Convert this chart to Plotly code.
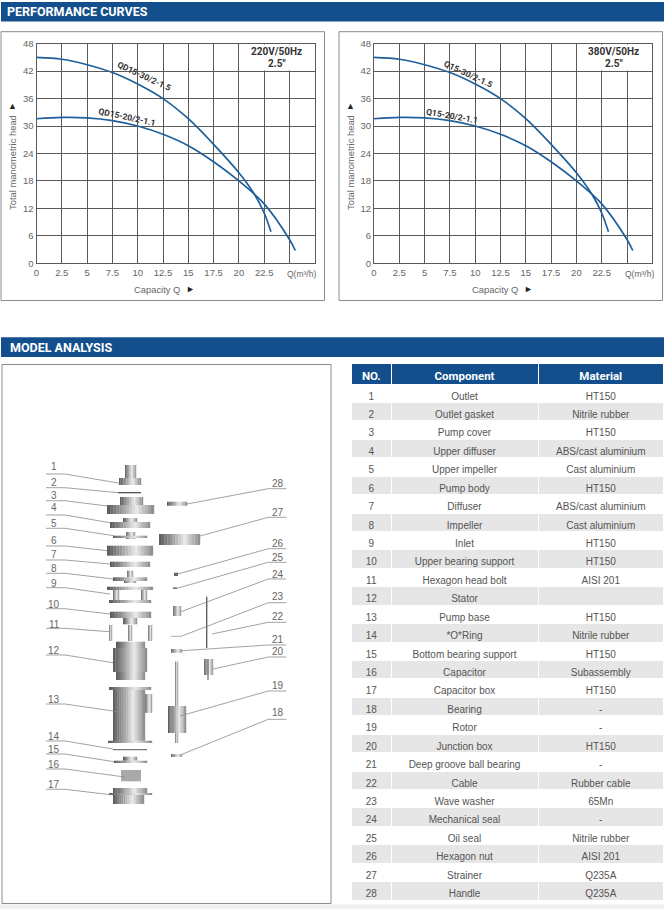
import plotly.graph_objects as go

# ---------- chart values ----------
q_30 = [0, 2.5, 5, 7.5, 10, 12.5, 15, 17.5, 20, 21.5, 22.5, 23.17]
h_30 = [45.0, 44.6, 43.4, 41.7, 39.2, 36.0, 31.6, 26.0, 19.8, 15.2, 11.0, 6.9]
q_20 = [0, 2.5, 5, 7.5, 10, 12.5, 15, 17.5, 20, 22.5, 25, 25.57]
h_20 = [31.6, 31.9, 31.8, 31.2, 30.0, 28.2, 25.7, 22.2, 18.0, 13.0, 5.2, 2.8]
x_ticks = [0, 2.5, 5, 7.5, 10, 12.5, 15, 17.5, 20, 22.5, 25]
x_tick_text = ["0", "2.5", "5", "7.5", "10", "12.5", "15", "17.5", "20", "22.5", ""]
y_ticks = [0, 6, 12, 18, 24, 30, 36, 42, 48]

# ---------- table values ----------
numbers = [str(i) for i in range(1, 29)]
components = ["Outlet", "Outlet gasket", "Pump cover", "Upper diffuser", "Upper impeller", "Pump body",
              "Diffuser", "Impeller", "Inlet", "Upper bearing support", "Hexagon head bolt", "Stator",
              "Pump base", "*O*Ring", "Bottom bearing support", "Capacitor", "Capacitor box", "Bearing",
              "Rotor", "Junction box", "Deep groove ball bearing", "Cable", "Wave washer",
              "Mechanical seal", "Oil seal", "Hexagon nut", "Strainer", "Handle"]
materials = ["HT150", "Nitrile rubber", "HT150", "ABS/cast aluminium", "Cast aluminium", "HT150",
             "ABS/cast aluminium", "Cast aluminium", "HT150", "HT150", "AISI 201", "",
             "HT150", "Nitrile rubber", "HT150", "Subassembly", "HT150", "-",
             "-", "HT150", "-", "Rubber cable", "65Mn", "-", "Nitrile rubber", "AISI 201", "Q235A", "Q235A"]

# ---------- page geometry ----------
W, H = 664, 909
BLUE = "#134f8c"
CURVE = "#1f5f9b"
GRID = "#5a5a5a"
TXT = "#666666"
SANS = "Liberation Sans"
NARROW = "Roboto, Liberation Sans"


def px(x):
    return x / W


def py(y):
    return 1 - y / H


shapes = []
annotations = []


def rect(x0, y0, x1, y1, fill="rgba(0,0,0,0)", line=None, lw=1):
    shapes.append(dict(type="rect", xref="paper", yref="paper", x0=px(x0), x1=px(x1), y0=py(y0), y1=py(y1),
                       fillcolor=fill, line=dict(color=line or "rgba(0,0,0,0)", width=lw if line else 0),
                       layer="below"))


def polyline(points, color="#8a8a8a", lw=0.8):
    d = "M" + " L".join(f"{px(a):.5f},{py(b):.5f}" for a, b in points)
    shapes.append(dict(type="path", xref="paper", yref="paper", path=d, line=dict(color=color, width=lw)))


def text(x, y, s, size=10, color=TXT, font=SANS, angle=0, anchor="center"):
    annotations.append(dict(xref="paper", yref="paper", x=px(x), y=py(y), text=s, showarrow=False,
                            xanchor=anchor, yanchor="middle", textangle=angle, borderpad=0, borderwidth=0,
                            font=dict(size=size, color=color, family=font)))


GRADIENT = ["#5f5f5f", "#6c6c6c", "#7b7b7b", "#898989", "#979797", "#a8a8a8", "#b9b9b9", "#cbcbcb", "#dcdcdc",
            "#e8e8e8", "#d6d6d6", "#c4c4c4", "#b4b4b4", "#a4a4a4", "#909090"]


def metal(x0, y0, x1, y1):
    n = len(GRADIENT)
    step = (x1 - x0) / n
    for i, c in enumerate(GRADIENT):
        rect(x0 + i * step, y0, x0 + (i + 1) * step + 0.2, y1, fill=c)


# background furniture
rect(1, 2, 664, 21.5, fill=BLUE)
rect(1, 337.3, 664, 357, fill=BLUE)
rect(1, 31.7, 324.5, 300.5, line="#8c8c8c")
rect(339, 31.7, 662.5, 300.5, line="#8c8c8c")
rect(2, 364.5, 331, 903.5, line="#8c8c8c")
rect(0, 904.5, 664, 909, fill="#f0f0f0")
text(7, 11.8, "<b>PERFORMANCE CURVES</b>", size=12.5, color="white", font=NARROW, anchor="left")
text(10, 347, "<b>MODEL ANALYSIS</b>", size=12.5, color="white", font=NARROW, anchor="left")

# chart side texts
for dx, volt, lab30, pos30, lab20, pos20, ang20, vx in [
    (0, "220V/50Hz", "QD15-30/2-1.5", (143.7, 76.5), "QD15-20/2-1.1", (127, 117.5), 12, 276.5),
    (338, "380V/50Hz", "Q15-30/2-1.5", (468, 74), "Q15-20/2-1.1", (452.3, 115.7), 10, 613.5),
]:
    text(12 + dx, 163, "Total manometric head", size=9.4, angle=-90)
    text(12 + dx, 106, "▲", size=9, color="#222222")
    text(157 + dx, 289, "Capacity Q", size=9.4)
    text(190 + dx, 289, "►", size=9, color="#222222")
    text(pos30[0], pos30[1], f"<b>{lab30}</b>", size=8.5, color="#333333", font=NARROW, angle=25)
    text(pos20[0], pos20[1], f"<b>{lab20}</b>", size=8.5, color="#333333", font=NARROW, angle=ang20)
    text(vx, 52, f"<b>{volt}</b>", size=10, color="#333333", font=NARROW)
    text(vx, 63, "<b>2.5\"</b>", size=10, color="#333333", font=NARROW)
text(301, 273.5, "Q(m³/h)", size=8.5)
text(639, 273.5, "Q(m³/h)", size=8.5)

# ---------- exploded view ----------
for box in [
    (125, 465, 136, 478), (119, 478, 141, 485),
    (120, 497, 143, 505), (107, 505, 154, 514),
    (123, 518, 137, 522), (110, 522, 150, 528),
    (126, 532, 135, 539), (113, 535.7, 147, 538),
    (107, 545.7, 153, 555.7), (110, 561.7, 150, 567),
    (127, 570.7, 133, 577), (113, 577.3, 147, 581), (124, 581, 136, 583),
    (107, 586.7, 153, 590), (113, 590, 119, 600), (141, 590, 147, 600), (109, 600, 151, 603),
    (110, 611.7, 151, 618), (123, 618, 137, 624.3),
    (109, 625, 112, 641), (148, 625, 152, 641), (128, 625, 132, 641),
    (116, 641.7, 145, 680), (113, 648, 147, 672),
    (145, 694, 152, 712.7), (113, 688, 145, 741.7), (109, 687, 151, 690), (108, 740.7, 152, 743),
    (123, 756.7, 137, 760.7), (114, 760.7, 147, 763),
    (113, 788, 147, 793), (109, 793, 152, 795), (113, 795, 144, 804),
    (167, 501.7, 187, 505.7), (159, 534, 200, 545),
    (173, 606, 181, 616), (171, 649, 182, 652.7), (204, 659, 213, 675),
    (175, 661.7, 178, 743), (168, 706, 186, 733), (171, 754, 182, 757),
]:
    metal(*box)
rect(121, 770, 141, 781.3, fill="#a9a9a9")
rect(174, 572.7, 178, 576, fill="#666666")
rect(173, 587.3, 177, 589, fill="#777777")
polyline([(118, 492.7), (141, 492.7)], color="#444444", lw=1.2)
polyline([(113, 749.7), (147, 749.7)], color="#555555", lw=1)
polyline([(171, 636.3), (182, 636.3)], color="#999999", lw=0.8)
polyline([(206.7, 596.7), (206.7, 648)], color="#555555", lw=1.3)
polyline([(208, 659), (208, 680)], color="#777777", lw=1.3)

left_callouts = [("1", 466.7, 474, 120, 483.3), ("2", 482, 487.7, 118, 492.7), ("3", 495, 500.7, 107, 506),
                 ("4", 508, 515, 110, 522.7), ("5", 523, 528.3, 114, 535.7), ("6", 540, 546, 107, 550.7),
                 ("7", 554, 560, 110, 564), ("8", 568, 573.3, 113, 579), ("9", 583, 587.7, 110, 594),
                 ("10", 604, 608.7, 110, 614), ("11", 624.3, 628.3, 109, 631.7), ("12", 650, 655, 113, 662.7),
                 ("13", 699.3, 704, 122, 712.3), ("14", 736.7, 741, 113, 749), ("15", 749, 754, 114, 761.7),
                 ("16", 764.7, 769, 125, 777), ("17", 784.3, 789.3, 113, 795)]
right_callouts = [("28", 484, 488.7, 187, 504), ("27", 512.7, 517.3, 200, 536), ("26", 543.7, 548.7, 178, 574),
                  ("25", 557.7, 562.3, 177, 588.3), ("24", 574.3, 579, 181, 611.7), ("23", 596.7, 602.7, 182, 636),
                  ("22", 616, 622.3, 212, 634), ("21", 639, 645, 182, 650.7), ("20", 651.7, 657, 213, 669),
                  ("19", 685, 691, 180, 716), ("18", 712.7, 719.3, 182, 754.3)]
for lab, ty, ly, ex, ey in left_callouts:
    text(54.5, ty, lab, size=10)
    polyline([(46, ly), (65, ly), (ex, ey)])
for lab, ty, ly, ex, ey in right_callouts:
    text(278, ty, lab, size=10)
    polyline([(286.3, ly), (268.3, ly), (ex, ey)])

# ---------- figure ----------
fig = go.Figure()
for ax, name30, name20 in [("", "QD15-30/2-1.5", "QD15-20/2-1.1"), ("2", "Q15-30/2-1.5", "Q15-20/2-1.1")]:
    for q, h, nm in [(q_30, h_30, name30), (q_20, h_20, name20)]:
        fig.add_trace(go.Scatter(x=q, y=h, name=nm, mode="lines", xaxis="x" + ax, yaxis="y" + ax,
                                 line=dict(color=CURVE, width=1.7, shape="spline", smoothing=0.9),
                                 showlegend=False, cliponaxis=False))
    # white caption area: hides the grid inside it, over the grid and under the curves
    shapes.append(dict(type="rect", xref="x" + ax, yref="y" + ax, x0=20.12, x1=27.42, y0=42.15, y1=47.85,
                       fillcolor="white", line=dict(width=0), layer="between"))


def xaxis(domain, anchor):
    return dict(domain=domain, range=[0, 27.5], tickvals=x_ticks, ticktext=x_tick_text, showgrid=True,
                gridcolor=GRID, gridwidth=1, zeroline=False, showline=True, linecolor=GRID, linewidth=1,
                mirror=True, ticks="", tickangle=0, tickfont=dict(size=9.5, color=TXT, family=SANS),
                anchor=anchor, automargin=False)


def yaxis(domain, anchor):
    return dict(domain=domain, range=[0, 48], tickvals=y_ticks, showgrid=True, gridcolor=GRID, gridwidth=1,
                zeroline=False, showline=True, linecolor=GRID, linewidth=1, mirror=True, ticks="",
                tickfont=dict(size=9.5, color=TXT, family=SANS), anchor=anchor, automargin=False)


fig.add_trace(go.Table(
    domain=dict(x=[px(351.5), px(663.5)], y=[py(909), py(363)]),
    columnwidth=[39.5, 147, 125.5],
    header=dict(values=["NO.", "Component", "Material"], height=21,
                fill_color=BLUE, line=dict(color="white", width=1), align="center",
                font=dict(size=11.5, color="white", family=NARROW, weight="bold")),
    cells=dict(values=[numbers, components, materials], height=18.43, align="center",
               fill_color=[["white" if i % 2 == 0 else "#e6e6e6" for i in range(28)]] * 3,
               line=dict(color="white", width=1), font=dict(size=10, color="#555555", family=SANS)),
))

fig.update_layout(
    template="none",
    width=W, height=H, margin=dict(l=0, r=0, t=0, b=0, pad=0, autoexpand=False), autosize=False, showlegend=False,
    paper_bgcolor="white", plot_bgcolor="white",
    xaxis=xaxis([px(36.5), px(314.8)], "y"), yaxis=yaxis([py(263.3), py(43.7)], "x"),
    xaxis2=xaxis([px(374), px(652.3)], "y2"), yaxis2=yaxis([py(263.3), py(43.7)], "x2"),
    shapes=shapes, annotations=annotations,
)
fig.write_html("out.html", config={"displayModeBar": False},
               post_script="document.body.style.margin='0';document.body.style.overflow='hidden';")
